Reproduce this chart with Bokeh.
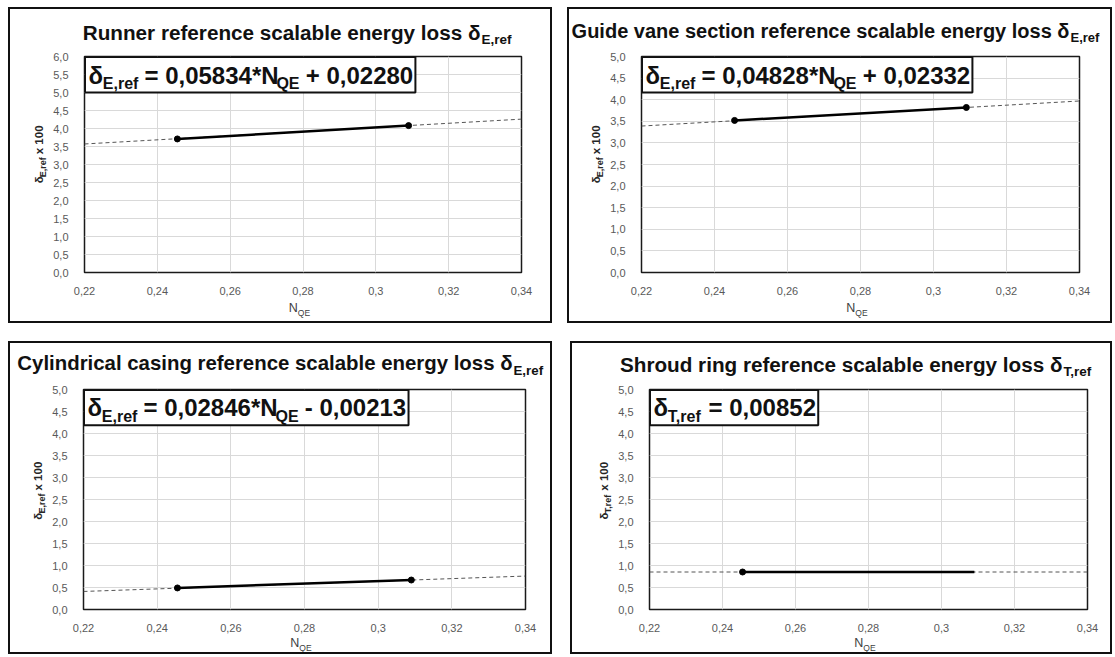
import math
from bokeh.plotting import figure
from bokeh.models import Range1d, FixedTicker, CustomJSTickFormatter, Label, Spacer
from bokeh.layouts import row, column
from bokeh.embed import file_html
from bokeh.resources import INLINE

FONT = "Liberation Sans"
MID = 0.35   # baseline -> middle of text (fraction of font size)

# ---------------- data ----------------
n_qe_ticks = [0.22, 0.24, 0.26, 0.28, 0.30, 0.32, 0.34]
y_ticks_6 = [0.0, 0.5, 1.0, 1.5, 2.0, 2.5, 3.0, 3.5, 4.0, 4.5, 5.0, 5.5, 6.0]
y_ticks_5 = [0.0, 0.5, 1.0, 1.5, 2.0, 2.5, 3.0, 3.5, 4.0, 4.5, 5.0]

n_qe_pts = [0.2455, 0.309]      # measured operating range
n_qe_trend = [0.22, 0.34]       # extrapolated (dashed) range

runner_pts = [3.71, 4.08]
runner_trend = [3.57, 4.26]
guide_pts = [3.52, 3.82]
guide_trend = [3.39, 3.97]
casing_pts = [0.49, 0.67]
casing_trend = [0.41, 0.76]
shroud_pts = [0.852, 0.852]
shroud_trend = [0.852, 0.852]

titles = [
    ("Runner reference scalable energy loss δ", "E,ref"),
    ("Guide vane section reference scalable energy loss δ", "E,ref"),
    ("Cylindrical casing reference scalable energy loss δ", "E,ref"),
    ("Shroud ring reference scalable energy loss δ", "T,ref"),
]
equations = [
    [("δ", False), ("E,ref", True), (" = 0,05834*N", False), ("QE", True), (" + 0,02280", False)],
    [("δ", False), ("E,ref", True), (" = 0,04828*N", False), ("QE", True), (" + 0,02332", False)],
    [("δ", False), ("E,ref", True), (" = 0,02846*N", False), ("QE", True), (" - 0,00213", False)],
    [("δ", False), ("T,ref", True), (" = 0,00852", False)],
]
ylabel_subs = ["E,ref", "E,ref", "E,ref", "T,ref"]

# ---------------- text metrics (Arial / Liberation Sans) ----------------
BOLD_W = {' ': 278, ',': 278, '=': 584, '*': 389, '+': 584, '-': 333, 'E': 667, 'N': 722,
          'Q': 778, 'T': 611, 'r': 389, 'e': 556, 'f': 333, 'x': 556, 'δ': 611}
REG_W = {' ': 278, ',': 278, 'E': 667, 'N': 722, 'Q': 778, 'T': 611}
for d in "0123456789":
    BOLD_W[d] = 556
    REG_W[d] = 556


def text_w(t, size, bold):
    tab = BOLD_W if bold else REG_W
    return sum(tab.get(c, 556) for c in t) * size / 1000.0


def rich_width(pieces, size, sub_size, bold):
    return sum(text_w(t, sub_size if s else size, bold) for t, s in pieces)


def rich(p, conv, pieces, ax, ay, size, sub_size, drop, color, bold, rotated=False):
    """Consecutive labels; (ax, ay) = start of the main baseline in page px."""
    pos = 0.0
    for text, is_sub in pieces:
        fs = sub_size if is_sub else size
        stripped = text.lstrip(" ")
        pos += text_w(" " * (len(text) - len(stripped)), fs, bold)
        base_off = drop if is_sub else 0
        if not rotated:
            px, py, ang = ax + pos, ay + base_off - MID * fs, 0.0
        else:
            px, py, ang = ax + base_off - MID * fs, ay - pos, math.pi / 2
        xd, yd = conv(px, py)
        p.add_layout(Label(x=xd, y=yd, text=stripped, text_font=FONT, text_font_size=f"{fs}px",
                           text_font_style="bold" if bold else "normal", text_color=color,
                           text_baseline="middle", text_align="left", angle=ang))
        pos += text_w(stripped, fs, bold)
    return pos


def strip(w, h):
    """A plain text strip: frame covers the canvas, data units = pixels (y down)."""
    s = figure(width=w, height=h, x_range=Range1d(0, w), y_range=Range1d(h, 0),
               output_backend="svg", toolbar_location=None, title=None,
               x_axis_type=None, y_axis_type=None, min_border=0,
               background_fill_color="white", border_fill_color="white")
    s.outline_line_color = None
    s.xgrid.visible = False
    s.ygrid.visible = False
    return s


def ident(ox, oy):
    return lambda ax, ay: (ax - ox, ay - oy)


# ---------------- panel geometry (page px) ----------------
geo = [
    dict(cx=10, cy=10, cw=540, ch=312, fl=67, ft=47, fw=444, fh=216, ymax=6.0, yt=y_ticks_6,
         tsplit=480, tbase=40, tsize=20.7, eqx=81, eqbase=84, boxbot=93, xlab_off=40, bb=26),
    dict(cx=569, cy=10, cw=541, ch=312, fl=65, ft=47, fw=445, fh=216, ymax=5.0, yt=y_ticks_5,
         tsplit=1069, tbase=38, tsize=20.0, eqx=638, eqbase=84, boxbot=93, xlab_off=40, bb=26),
    dict(cx=10, cy=344, cw=540, ch=309, fl=66, ft=46, fw=449, fh=222, ymax=5.0, yt=y_ticks_5,
         tsplit=512, tbase=371, tsize=20.4, eqx=80, eqbase=417, boxbot=426, xlab_off=36, bb=23),
    dict(cx=572, cy=344, cw=538, ch=309, fl=70, ft=46, fw=445, fh=222, ymax=5.0, yt=y_ticks_5,
         tsplit=1062, tbase=372, tsize=20.7, eqx=646, eqbase=417, boxbot=426, xlab_off=36, bb=23),
]
series = [
    (runner_pts, runner_trend, True),
    (guide_pts, guide_trend, True),
    (casing_pts, casing_trend, True),
    (shroud_pts, shroud_trend, False),
]

MAIN_TOP = 7

panels = []
for i, g in enumerate(geo):
    xr = (n_qe_ticks[0], n_qe_ticks[-1])
    yr = (0.0, g["ymax"])
    ylw = g["fl"] - 27                      # y-label strip width
    th = g["ft"] - MAIN_TOP                 # title strip height
    mh = MAIN_TOP + g["fh"] + g["bb"]       # middle height
    xh = g["ch"] - th - mh                  # x label strip height
    mw = g["cw"] - ylw
    fx0 = g["cx"] + g["fl"]
    fy0 = g["cy"] + g["ft"]

    p = figure(width=mw, height=mh, x_range=Range1d(*xr), y_range=Range1d(*yr),
               output_backend="svg", toolbar_location=None, title=None,
               min_border_left=g["fl"] - ylw, min_border_top=MAIN_TOP,
               min_border_right=g["cw"] - g["fl"] - g["fw"], min_border_bottom=g["bb"],
               background_fill_color="white", border_fill_color="white")
    p.outline_line_color = "#1a1a1a"
    p.outline_line_width = 1.5

    p.xaxis.ticker = FixedTicker(ticks=n_qe_ticks)
    p.yaxis.ticker = FixedTicker(ticks=g["yt"])
    p.xaxis.formatter = CustomJSTickFormatter(code="return (Math.round(tick*100)/100).toString().replace('.', ',');")
    p.yaxis.formatter = CustomJSTickFormatter(code="return tick.toFixed(1).replace('.', ',');")
    for ax in (p.xaxis, p.yaxis):
        ax.axis_line_color = None
        ax.major_tick_line_color = None
        ax.minor_tick_line_color = None
        ax.major_label_text_font = FONT
        ax.major_label_text_font_size = "11px"
        ax.major_label_text_color = "#595959"
    p.yaxis.major_label_standoff = 10
    p.xaxis.major_label_standoff = 8
    p.xgrid.grid_line_color = "#d9d9d9"
    p.ygrid.grid_line_color = "#d9d9d9"

    pts, trend, both_markers = series[i]
    p.line(n_qe_trend, trend, line_color="#555555", line_width=1, line_dash="4 3")
    p.line(n_qe_pts, pts, line_color="black", line_width=2.5)
    if both_markers:
        p.scatter(n_qe_pts, pts, size=6, color="black")
    else:
        p.scatter(n_qe_pts[:1], pts[:1], size=6, color="black")

    def conv(ax, ay, g=g, xr=xr, yr=yr, fx0=fx0, fy0=fy0):
        xd = xr[0] + (ax - fx0) / g["fw"] * (xr[1] - xr[0])
        yd = yr[1] - (ay - fy0) / g["fh"] * (yr[1] - yr[0])
        return xd, yd

    # equation box + text
    eq = equations[i]
    eqw = rich_width(eq, 24, 16, True)
    bl, bt = conv(fx0 + 0.5, fy0 + 0.5)
    br, bb = conv(g["eqx"] + eqw + 4, g["boxbot"])
    p.quad(left=[bl], right=[br], bottom=[bb], top=[bt], fill_color="white", fill_alpha=1.0,
           line_color="#111111", line_width=2)
    rich(p, conv, eq, g["eqx"], g["eqbase"], 24, 16, 6, "#111111", True)

    # title strip
    ts = strip(g["cw"], th)
    tconv = ident(g["cx"], g["cy"])
    main, sub = titles[i]
    sub_size = round(g["tsize"] * 0.65, 1)
    tx, ty = tconv(g["tsplit"], g["tbase"] - MID * g["tsize"])
    ts.add_layout(Label(x=tx, y=ty, text=main, text_font=FONT, text_font_size=f"{g['tsize']}px",
                        text_font_style="bold", text_color="#111111", text_baseline="middle",
                        text_align="right"))
    sx, sy = tconv(g["tsplit"] + 1, g["tbase"] + 5 - MID * sub_size)
    ts.add_layout(Label(x=sx, y=sy, text=sub, text_font=FONT, text_font_size=f"{sub_size}px",
                        text_font_style="bold", text_color="#111111", text_baseline="middle",
                        text_align="left"))

    # y label strip (rotated)
    ys = strip(ylw, mh)
    yconv = ident(g["cx"], g["cy"] + th)
    ylab = [("δ", False), (ylabel_subs[i], True), ("  x 100", False)]
    yw = rich_width(ylab, 11.5, 9, True)
    ycenter = fy0 + g["fh"] / 2
    rich(ys, yconv, ylab, fx0 - 34, ycenter + yw / 2, 11.5, 9, 3, "#262626", True, rotated=True)

    # x label strip
    xs = strip(g["cw"], xh)
    xconv = ident(g["cx"], g["cy"] + th + mh)
    xlab = [("N", False), ("QE", True)]
    xw = rich_width(xlab, 12.5, 8.5, False)
    xcenter = fx0 + g["fw"] / 2
    rich(xs, xconv, xlab, xcenter - xw / 2, fy0 + g["fh"] + g["xlab_off"], 12.5, 8.5, 3, "#404040", False)

    panel = column(ts, row(ys, p, spacing=0), xs, spacing=0)
    panel.styles = {"border": "2px solid #111111"}
    panels.append(panel)

grid = column(row(panels[0], panels[1], spacing=15), row(panels[2], panels[3], spacing=18), spacing=18)
layout = row(Spacer(width=8), column(Spacer(height=7), grid, spacing=0), spacing=0)
open("out.html", "w").write(file_html(layout, INLINE))
